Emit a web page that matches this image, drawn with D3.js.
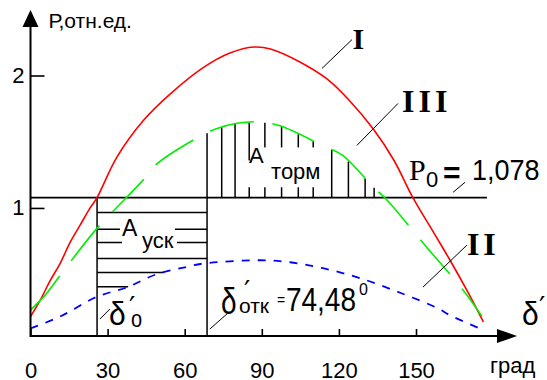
<!DOCTYPE html>
<html>
<head>
<meta charset="utf-8">
<script src="https://cdn.jsdelivr.net/npm/d3@7"></script>
<style>
  body { margin: 0; background: #fff; }
</style>
</head>
<body>
<div id="chart"></div>
<script>
// power-angle characteristics: [delta (deg), P (p.u.)]
var curveI = [[0, 0.18], [3.7, 0.30], [7.6, 0.45], [11.5, 0.58], [15.4, 0.74], [19.3, 0.87],
  [23.2, 1.00], [25.9, 1.078], [33.5, 1.38], [43.9, 1.66], [54.3, 1.86], [67.2, 2.06],
  [77.6, 2.17], [87, 2.215], [93.4, 2.20], [105, 2.10], [115.6, 1.97], [124.6, 1.80],
  [133.6, 1.59], [141.4, 1.36], [148.8, 1.078], [157, 0.81], [163.7, 0.59], [170.3, 0.36],
  [176.2, 0.14]];
var curveII = [[0, 0.09], [11.5, 0.18], [25.9, 0.33], [37.4, 0.40], [49.1, 0.50], [60.8, 0.555],
  [67.1, 0.58], [89.3, 0.605], [101, 0.59], [113.8, 0.545], [128.2, 0.47], [143.8, 0.36],
  [158.2, 0.245], [163.2, 0.19], [174.8, 0.09]];
var curveIII = [[0, 0.23], [5.6, 0.34], [11.5, 0.49], [24.3, 0.81], [30.9, 0.95], [43.8, 1.21],
  [48.4, 1.32], [64, 1.52], [72.6, 1.60], [80.4, 1.64], [89.3, 1.65], [97.1, 1.62],
  [113.8, 1.47], [121.2, 1.40], [133.3, 1.16], [138.7, 1.06], [149.6, 0.81], [154.3, 0.70],
  [168.3, 0.38], [175.7, 0.18]];

var P0 = 1.078;
var delta0 = 25.9;
var deltaOtk = 68.7;     // where the clearing line sits in the picture
var deltaP0End = 177.6;  // right end of the P0 line
var xTicks = [0, 30, 60, 90, 120, 150];
var yTicks = [1, 2];
// hatching of the areas
var hatchP = [0.965, 0.839, 0.739, 0.619, 0.513, 0.405];
var hatchDelta = [74.4, 79.6, 85.1, 91.2, 97.7, 104.2, 110, 117.2, 123.7, 130.2, 133.7];

var sans = "'Liberation Sans', Arial, sans-serif";
var serif = "'Liberation Serif', 'Times New Roman', serif";

var svg = d3.select("#chart").append("svg")
  .attr("width", 547)
  .attr("height", 380);

var x = d3.scaleLinear().domain([0, 150]).range([30.5, 416]);
var y = d3.scaleLinear().domain([0, 2]).range([340.4, 75.5]);
var axisY = y(0) - 4.4;

// linear lookup of a curve at delta
function valueAt(series, d) {
  for (var i = 1; i < series.length; i++) {
    if (series[i][0] >= d) {
      var a = series[i - 1], b = series[i];
      return a[1] + (b[1] - a[1]) * (d - a[0]) / (b[0] - a[0]);
    }
  }
  return series[series.length - 1][1];
}
// first delta >= from where the curve reaches p
function deltaWhere(series, p, from) {
  for (var i = 1; i < series.length; i++) {
    var a = series[i - 1], b = series[i];
    if (b[0] < from) continue;
    if (b[1] >= p && a[1] < p) return a[0] + (b[0] - a[0]) * (p - a[1]) / (b[1] - a[1]);
  }
  return Infinity;
}

function seg(d1, p1, d2, p2, w) {
  svg.append("line")
    .attr("x1", x(d1)).attr("y1", y(p1))
    .attr("x2", x(d2)).attr("y2", y(p2))
    .attr("stroke", "#000")
    .attr("stroke-width", w || 1);
}

function label(d, p, s, o) {
  o = o || {};
  svg.append("text")
    .attr("transform", "translate(" + x(d) + "," + y(p) + ") scale(1," + (o.sy || 1) + ")")
    .style("font-family", o.family || sans)
    .style("font-size", (o.size || 22) + "px")
    .style("font-weight", o.weight || "normal")
    .style("letter-spacing", (o.ls || 0) + "px")
    .attr("fill", "#000")
    .text(s);
}

// acceleration area: horizontal hatching
hatchP.forEach(function(p) {
  var end = Math.min(deltaOtk, deltaWhere(curveII, p, delta0));
  seg(delta0, p, end, p, 1.5);
});

// braking area: vertical hatching up to curve III
hatchDelta.forEach(function(d) {
  seg(d, P0, d, valueAt(curveIII, d), 1.5);
});

// white label boxes over the hatching
var boxes = [[34.8, 56.2, 0.922, 0.787], [35.6, 57.0, 0.787, 0.666],
  [85.4, 113.0, 1.457, 1.322], [83.5, 113.0, 1.359, 1.156]];
svg.selectAll("rect.box").data(boxes).enter().append("rect")
  .attr("class", "box")
  .attr("x", function(b) { return x(b[0]); })
  .attr("y", function(b) { return y(b[2]); })
  .attr("width", function(b) { return x(b[1]) - x(b[0]); })
  .attr("height", function(b) { return y(b[3]) - y(b[2]); })
  .attr("fill", "#fff");

// delta0 and clearing angle verticals, P0 line
svg.append("line").attr("x1", x(delta0)).attr("x2", x(delta0))
  .attr("y1", axisY).attr("y2", y(P0)).attr("stroke", "#000").attr("stroke-width", 1.5);
svg.append("line").attr("x1", x(deltaOtk)).attr("x2", x(deltaOtk))
  .attr("y1", axisY).attr("y2", y(valueAt(curveIII, deltaOtk))).attr("stroke", "#000").attr("stroke-width", 1.5);
seg(0, P0, deltaP0End, P0, 1.6);

// curves
var line = d3.line()
  .x(function(d) { return x(d[0]); })
  .y(function(d) { return y(d[1]); })
  .curve(d3.curveCatmullRom);

svg.append("path").datum(curveI).attr("d", line)
  .attr("fill", "none").attr("stroke", "#ff0000").attr("stroke-width", 1.6);
svg.append("path").datum(curveIII).attr("d", line)
  .attr("fill", "none").attr("stroke", "#00ee00").attr("stroke-width", 1.6)
  .attr("stroke-dasharray", "45,19");
svg.append("path").datum(curveII).attr("d", line)
  .attr("fill", "none").attr("stroke", "#0000ff").attr("stroke-width", 1.8)
  .attr("stroke-dasharray", "8,8");

// axes
var gx = svg.append("g")
  .attr("transform", "translate(0," + axisY + ")")
  .call(d3.axisBottom(x).tickValues(xTicks).tickSize(-7).tickPadding(26));
var gy = svg.append("g")
  .attr("transform", "translate(" + x(0) + ",0)")
  .call(d3.axisLeft(y).tickValues(yTicks).tickFormat(d3.format("d")).tickSize(-14).tickPadding(6));
[gx, gy].forEach(function(g) {
  g.select(".domain").remove();
  g.selectAll(".tick line").attr("stroke", "#000").attr("stroke-width", 1.6);
  g.selectAll(".tick text").attr("fill", "#000")
    .style("font-family", sans).style("font-size", "22px");
});

// axis lines with arrows
svg.append("line").attr("x1", x(0)).attr("x2", x(0)).attr("y1", axisY + 1).attr("y2", 20)
  .attr("stroke", "#000").attr("stroke-width", 2);
svg.append("path").attr("d", "M" + x(0) + ",10L" + (x(0) - 8) + ",27L" + (x(0) + 8) + ",27Z")
  .attr("fill", "#000");
svg.append("line").attr("x1", x(0)).attr("x2", 505).attr("y1", axisY).attr("y2", axisY)
  .attr("stroke", "#000").attr("stroke-width", 2);
svg.append("path").attr("d", "M517," + axisY + "L497," + (axisY - 7) + "L497," + (axisY + 7) + "Z")
  .attr("fill", "#000");

svg.append("text").attr("x", x(0) + 18).attr("y", 28)
  .style("font-family", sans).style("font-size", "21px").text("Р,отн.ед.");
svg.append("text").attr("x", x(178.8)).attr("y", axisY + 37)
  .style("font-family", sans).style("font-size", "22px").text("град");

// leaders
seg(113.4, 2.053, 125.1, 2.271);
seg(127.0, 1.472, 143.0, 1.789);
seg(152.7, 0.402, 169.8, 0.719);
seg(164.4, 1.118, 169.1, 1.194);
seg(27.0, 0.161, 30.9, 0.237);
seg(69.8, 0.086, 76.8, 0.206);

// curve names
label(125.3, 2.203, "I", {family: serif, size: 30, weight: "bold"});
label(144.6, 1.721, "III", {family: serif, size: 32, weight: "bold", ls: 4});
label(169.8, 0.644, "II", {family: serif, size: 32, weight: "bold", ls: 4});

// P0 = 1,078
label(147.3, 1.209, "P", {family: serif, size: 30});
label(153.9, 1.156, "0", {size: 22});
label(160.5, 1.186, "=", {size: 30, weight: "bold"});
label(171.8, 1.209, "1,078", {size: 27, sy: 1.1});

// areas
label(35.6, 0.787, "А", {size: 23});
label(43.4, 0.696, "уск", {size: 22});
label(85.0, 1.337, "А", {size: 22});
label(93.6, 1.216, "торм", {size: 22});

// angles
label(30.5, 0.116, "δ", {size: 30, sy: 1.1});
label(38.3, 0.177, "′", {family: "'DejaVu Sans', sans-serif", size: 28});
label(39.1, 0.101, "o", {size: 20, sy: 1.2});
label(74.1, 0.199, "δ", {size: 28, sy: 1.3});
label(83.1, 0.297, "′", {family: "'DejaVu Sans', sans-serif", size: 28});
label(81.1, 0.206, "отк", {size: 21});
label(95.9, 0.267, "=", {size: 14});
label(99.4, 0.222, "74,48", {size: 28, sy: 1.2});
label(127.8, 0.342, "0", {size: 16});
label(191.2, 0.116, "δ", {size: 30, sy: 1.1});
label(197.9, 0.177, "′", {family: "'DejaVu Sans', sans-serif", size: 28});
</script>
</body>
</html>
